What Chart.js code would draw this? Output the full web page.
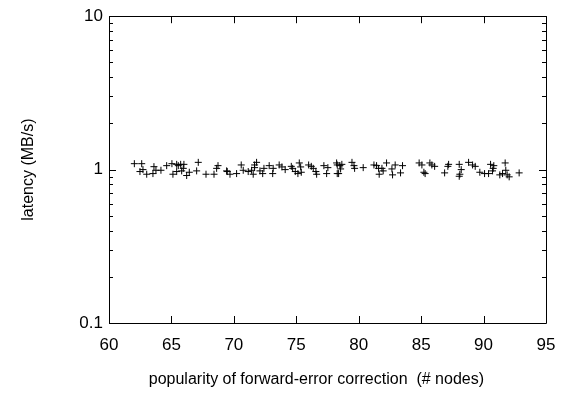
<!DOCTYPE html>
<html>
<head>
<meta charset="utf-8">
<script src="https://cdn.jsdelivr.net/npm/chart.js@4/dist/chart.umd.min.js"></script>
<style>
  html, body { margin: 0; padding: 0; background: #fff; }
  #wrap { width: 569px; height: 393px; }
</style>
</head>
<body>
<div id="wrap"><canvas id="myScatter" width="569" height="393"></canvas></div>
<script>
// values
const nodes = [62.03, 62.62, 62.48, 62.72, 63.02, 63.52, 63.60, 63.76, 64.16, 64.62,
  65.04, 65.42, 65.55, 65.74, 66.00, 65.12, 65.42, 65.82, 65.95, 66.22,
  66.43, 67.02, 67.15, 67.77, 68.41, 68.62, 68.73, 69.42, 69.47, 69.69,
  70.22, 70.59, 70.75, 71.15, 71.42, 71.55, 71.66, 71.82, 71.66, 72.09,
  72.31, 72.41, 72.83, 73.11, 73.15, 73.63, 73.85, 74.11, 74.60, 74.71,
  74.92, 75.13, 75.24, 75.35, 75.40, 75.99, 76.20, 76.36, 76.57, 76.63,
  77.21, 77.43, 77.53, 78.28, 78.28, 78.23, 78.49, 78.65, 78.55, 78.39,
  79.46, 79.62, 79.67, 80.36, 81.22, 81.43, 81.59, 81.64, 81.86, 81.96,
  82.23, 82.66, 82.71, 82.92, 83.35, 83.51, 84.84, 85.06, 85.22, 85.32,
  85.70, 85.86, 86.08, 86.88, 87.20, 87.14, 88.05, 88.21, 88.10, 88.05,
  88.80, 89.12, 89.33, 89.70, 90.08, 90.40, 90.56, 90.72, 90.77, 90.82,
  91.30, 91.52, 91.73, 91.78, 91.89, 92.05, 92.85];
const latency = [1.093, 1.093, 0.971, 1.000, 0.933, 0.942, 1.045, 0.990, 0.990, 1.061,
  1.093, 1.082, 1.061, 1.082, 1.082, 0.933, 0.971, 0.981, 1.019, 0.915,
  0.961, 0.981, 1.115, 0.933, 0.933, 1.019, 1.061, 0.981, 0.971, 0.933,
  0.942, 1.072, 0.990, 0.971, 0.990, 0.933, 1.072, 1.115, 1.030, 0.981,
  0.942, 1.019, 1.061, 0.942, 1.019, 1.072, 1.041, 1.000, 1.050, 1.019,
  0.971, 0.942, 1.105, 1.041, 0.961, 1.072, 1.050, 1.019, 0.971, 0.933,
  1.061, 0.942, 1.030, 1.072, 0.942, 1.105, 1.061, 1.082, 1.010, 0.942,
  1.115, 1.061, 1.019, 1.030, 1.072, 1.061, 1.019, 0.933, 1.019, 0.981,
  1.105, 1.010, 0.924, 1.072, 0.952, 1.061, 1.105, 1.072, 0.961, 0.942,
  1.105, 1.072, 1.050, 0.952, 1.082, 1.050, 1.082, 1.000, 0.933, 0.905,
  1.115, 1.072, 1.050, 0.961, 0.942, 0.942, 1.082, 0.981, 1.019, 1.061,
  0.924, 0.942, 1.105, 0.990, 0.924, 0.897, 0.952];
const xTicks = [60, 65, 70, 75, 80, 85, 90, 95];
const yTicks = [0.1, 1, 10];
const yMinor = [0.2, 0.3, 0.4, 0.5, 0.6, 0.7, 0.8, 0.9, 2, 3, 4, 5, 6, 7, 8, 9];

const points = nodes.map((x, i) => ({ x: x, y: latency[i] }));
const font = "'Liberation Sans', Arial, Helvetica, sans-serif";

// gnuplot style frame with inward ticks
const framePlugin = {
  id: 'frame',
  afterDraw(chart) {
    const ctx = chart.ctx;
    const a = chart.chartArea;
    const xs = chart.scales.x, ys = chart.scales.y;
    ctx.save();
    ctx.strokeStyle = '#000';
    ctx.lineWidth = 1;
    ctx.beginPath();
    ctx.rect(Math.round(a.left) + 0.5, Math.round(a.top) + 0.5,
      Math.round(a.right - a.left), Math.round(a.bottom - a.top));
    xTicks.forEach(v => {
      const px = Math.round(xs.getPixelForValue(v)) + 0.5;
      ctx.moveTo(px, a.bottom); ctx.lineTo(px, a.bottom - 7);
      ctx.moveTo(px, a.top); ctx.lineTo(px, a.top + 7);
    });
    yTicks.forEach(v => {
      const py = Math.round(ys.getPixelForValue(v)) + 0.5;
      ctx.moveTo(a.left, py); ctx.lineTo(a.left + 7, py);
      ctx.moveTo(a.right, py); ctx.lineTo(a.right - 7, py);
    });
    yMinor.forEach(v => {
      const py = Math.round(ys.getPixelForValue(v)) + 0.5;
      ctx.moveTo(a.left, py); ctx.lineTo(a.left + 4, py);
      ctx.moveTo(a.right, py); ctx.lineTo(a.right - 4, py);
    });
    ctx.stroke();
    ctx.restore();
  }
};

const ctx = document.getElementById('myScatter').getContext('2d');
new Chart(ctx, {
  type: 'scatter',
  data: {
    datasets: [{
      data: points,
      pointStyle: 'cross',
      radius: 3.5,
      hoverRadius: 3.5,
      borderWidth: 1,
      borderColor: '#000',
      backgroundColor: '#000'
    }]
  },
  options: {
    responsive: false,
    animation: false,
    events: [],
    layout: { padding: { top: 13, right: 23, left: 0, bottom: 0 } },
    plugins: { legend: { display: false }, tooltip: { enabled: false } },
    scales: {
      x: {
        type: 'linear',
        min: 60,
        max: 95,
        grid: { display: false, drawTicks: false },
        border: { display: false },
        afterBuildTicks: s => { s.ticks = xTicks.map(v => ({ value: v })); },
        afterFit: s => { s.height = 70; },
        ticks: { color: '#000', padding: 12, font: { family: font, size: 17 } },
        title: {
          display: true,
          // trailing spaces nudge the centred label left like the gnuplot original
          text: 'popularity of forward-error correction  (# nodes)     ',
          color: '#000',
          font: { family: font, size: 16 },
          padding: { top: 1 }
        }
      },
      y: {
        type: 'logarithmic',
        min: 0.1,
        max: 10,
        grid: { display: false, drawTicks: false },
        border: { display: false },
        afterBuildTicks: s => { s.ticks = yTicks.map(v => ({ value: v })); },
        afterFit: s => { s.width = 109; },
        ticks: {
          color: '#000',
          padding: 6,
          font: { family: font, size: 17 },
          callback: v => String(v)
        },
        title: {
          display: true,
          text: 'latency (MB/s)',
          color: '#000',
          font: { family: font, size: 16 },
          padding: { bottom: 0, top: 19 }
        }
      }
    }
  },
  plugins: [framePlugin]
});
</script>
</body>
</html>
